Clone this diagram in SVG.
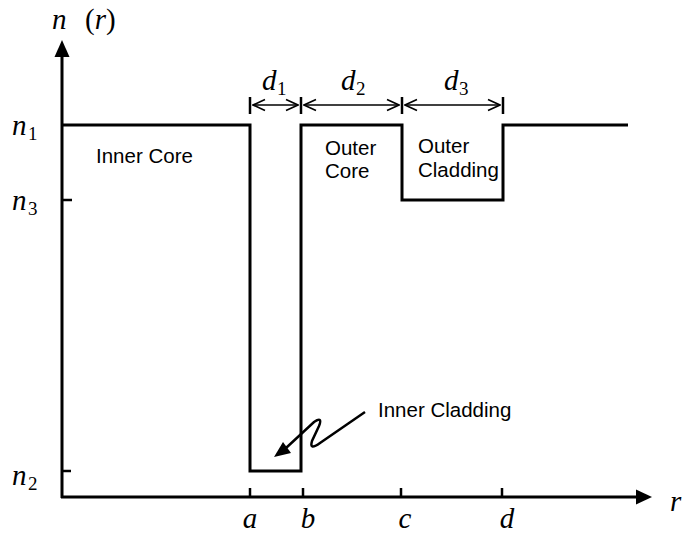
<svg xmlns="http://www.w3.org/2000/svg" width="685" height="538" viewBox="0 0 685 538">
<style>
.ln{fill:none;stroke:#000;stroke-width:3;stroke-linejoin:miter;stroke-linecap:butt}
.tk{fill:none;stroke:#000;stroke-width:2.5}
.dim{fill:none;stroke:#000;stroke-width:1.5}
.lbl{font-family:"Liberation Sans",Arial,sans-serif;font-size:20.5px;fill:#000}
.m{font-family:"Liberation Serif","Times New Roman",serif;font-style:italic;font-size:29px;fill:#000}
.s{font-family:"Liberation Serif","Times New Roman",serif;font-size:19px;fill:#000}
</style>
<defs>
<marker id="chev" viewBox="0 0 14 14" refX="13" refY="7" markerWidth="14" markerHeight="14" markerUnits="userSpaceOnUse" orient="auto-start-reverse">
<path d="M1,1.5 L13,7 L1,12.5" fill="none" stroke="#000" stroke-width="1.6"/>
</marker>
</defs>
<g id="axes">
<line class="ln" x1="62" y1="498" x2="62" y2="55"/>
<polygon points="62,40 54.5,57 69.5,57" fill="#000"/>
<line class="ln" x1="61" y1="497" x2="640" y2="497"/>
<polygon points="652,497 636,489.5 636,504.5" fill="#000"/>
<line class="tk" x1="62" y1="200" x2="72" y2="200"/>
<line class="tk" x1="62" y1="471" x2="71" y2="471"/>
<line class="tk" x1="250" y1="488" x2="250" y2="497"/>
<line class="tk" x1="303" y1="488" x2="303" y2="497"/>
<line class="tk" x1="401" y1="488" x2="401" y2="497"/>
<line class="tk" x1="502" y1="488" x2="502" y2="497"/>
</g>
<g id="profile">
<polyline class="ln" points="62,125 250,125 250,471 301,471 301,125 402,125 402,200 503,200 503,125 628,125"/>
</g>
<g id="dimensions">
<line class="tk" x1="250" y1="97" x2="250" y2="114"/>
<line class="tk" x1="301" y1="97" x2="301" y2="114"/>
<line class="tk" x1="402" y1="97" x2="402" y2="114"/>
<line class="tk" x1="503" y1="97" x2="503" y2="114"/>
<line class="dim" x1="253" y1="105" x2="298" y2="105" marker-start="url(#chev)" marker-end="url(#chev)"/>
<line class="dim" x1="304" y1="105" x2="399" y2="105" marker-start="url(#chev)" marker-end="url(#chev)"/>
<line class="dim" x1="405" y1="105" x2="500" y2="105" marker-start="url(#chev)" marker-end="url(#chev)"/>
</g>
<g id="connectors">
<path d="M365,412 L320,443 Q309,451 312,441 L319,426 Q323,416 314,422 L286,448" fill="none" stroke="#000" stroke-width="2.5"/>
<polygon points="274,457 291,453 283,442" fill="#000"/>
</g>
<g id="labels">
<text class="m" x="52" y="29">n</text>
<text class="m" x="85" y="29" style="font-style:normal">(<tspan style="font-style:italic">r</tspan>)</text>
<text class="m" x="12" y="135">n</text><text class="s" x="28" y="140">1</text>
<text class="m" x="12" y="210">n</text><text class="s" x="28" y="215">3</text>
<text class="m" x="12" y="485">n</text><text class="s" x="28" y="490">2</text>
<text class="m" x="262" y="90">d</text><text class="s" x="277" y="95">1</text>
<text class="m" x="341" y="90">d</text><text class="s" x="356" y="95">2</text>
<text class="m" x="444" y="90">d</text><text class="s" x="459" y="95">3</text>
<text class="m" x="250" y="528" text-anchor="middle">a</text>
<text class="m" x="308" y="528" text-anchor="middle">b</text>
<text class="m" x="405" y="528" text-anchor="middle">c</text>
<text class="m" x="507" y="528" text-anchor="middle">d</text>
<text class="m" x="670" y="511">r</text>
<text class="lbl" x="96" y="163">Inner Core</text>
<text class="lbl" x="325" y="155">Outer</text>
<text class="lbl" x="325" y="178">Core</text>
<text class="lbl" x="418" y="153">Outer</text>
<text class="lbl" x="418" y="177">Cladding</text>
<text class="lbl" x="378" y="417">Inner Cladding</text>
</g>
</svg>
